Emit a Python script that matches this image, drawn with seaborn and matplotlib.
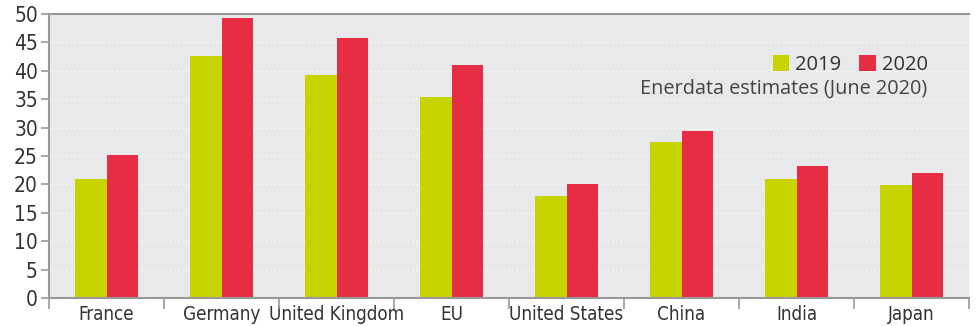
import matplotlib
matplotlib.use("Agg")
import matplotlib.pyplot as plt
import seaborn as sns
import pandas as pd
from matplotlib.ticker import FixedLocator
from matplotlib import font_manager

categories = ["France", "Germany", "United Kingdom", "EU", "United States", "China", "India", "Japan"]
values_2019 = [20.9, 42.6, 39.2, 35.4, 17.9, 27.4, 20.9, 19.9]
values_2020 = [25.1, 49.3, 45.8, 41.1, 20.0, 29.4, 23.2, 22.0]
years = ["2019", "2020"]
yticks = list(range(0, 51, 5))

df = pd.DataFrame({
    "country": categories * 2,
    "year": [years[0]] * len(categories) + [years[1]] * len(categories),
    "value": values_2019 + values_2020,
})

sns.set_style("white", {"xtick.bottom": True, "ytick.left": True})

narrow_prop = None
for f in font_manager.fontManager.ttflist:
    if ("Narrow" in f.fname or "Condensed" in f.fname) and "Bold" not in f.fname and "Oblique" not in f.fname and "Italic" not in f.fname:
        narrow_prop = font_manager.FontProperties(fname=f.fname)
        break
if narrow_prop is None:
    narrow_prop = font_manager.FontProperties(family="DejaVu Sans")

fig = plt.figure(figsize=(9.77, 3.26), dpi=100)
ax = fig.add_axes([49/977, 1 - 298/326, 920/977, 284/326])
ax.set_facecolor("#E8E9EB")

palette = {"2019": "#C8D400", "2020": "#E72D44"}
sns.barplot(data=df, x="country", y="value", hue="year", palette=palette,
            width=0.54, gap=0, saturation=1, ax=ax, legend=True, linewidth=0)

ax.set_xlim(-0.5, len(categories) - 0.5)
ax.set_ylim(0, 50)
ax.set_yticks(yticks)
ax.set_yticklabels([str(v) for v in yticks], color="#333333")
ax.set_xticks(range(len(categories)))
ax.set_xticklabels(categories, color="#333333")
for t in ax.get_yticklabels():
    t.set_fontproperties(narrow_prop)
    t.set_fontsize(15)
for t in ax.get_xticklabels():
    t.set_fontproperties(narrow_prop)
    t.set_fontsize(13.5)
ax.xaxis.set_minor_locator(FixedLocator([i - 0.5 for i in range(len(categories) + 1)]))
ax.tick_params(axis="x", which="major", length=0, pad=5, bottom=False)
ax.tick_params(axis="x", which="minor", length=8, width=1.2, color="#999999", bottom=True, direction="out")
ax.tick_params(axis="y", which="major", length=6, width=1.2, color="#999999", pad=2, left=True, direction="out")
ax.set_xlabel("")
ax.set_ylabel("")

for y in yticks[1:-1]:
    ax.axhline(y, color="white", linestyle=(0, (1, 2)), linewidth=1, zorder=0.5)
ax.set_axisbelow(True)

for s in ["left", "top", "bottom"]:
    ax.spines[s].set_visible(True)
    ax.spines[s].set_color("#999999")
    ax.spines[s].set_linewidth(1.5)
ax.spines["right"].set_visible(False)

handles, labels = ax.get_legend_handles_labels()
leg = ax.legend(handles, labels, ncol=2, frameon=False, loc="center right",
                bbox_to_anchor=(0.955, 0.82), handlelength=0.8,
                handleheight=0.8, handletextpad=0.3, columnspacing=0.9,
                borderpad=0, borderaxespad=0,
                prop={"family": "Open Sans", "size": 14.5})
for t in leg.get_texts():
    t.set_color("#333333")
ax.text(0.955, 0.736, "Enerdata estimates (June 2020)", transform=ax.transAxes,
        ha="right", va="center", fontsize=14.3, color="#444444", family="Open Sans")

fig.savefig("out.png", dpi=100)
